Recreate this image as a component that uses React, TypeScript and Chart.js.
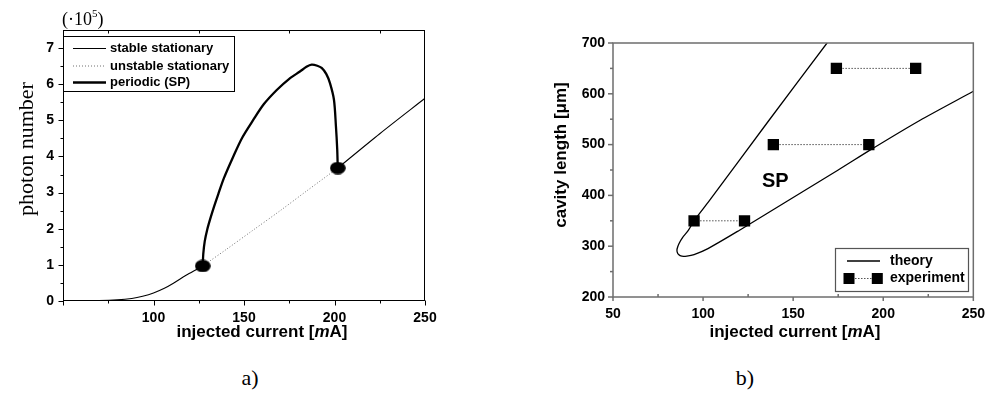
import React, { useEffect, useRef } from 'react';
import { Chart, registerables } from 'chart.js';

Chart.register(...registerables);

// ---------------- Panel a) photon number vs injected current ----------------
const stableLowCurrent = [50, 70, 80, 88, 94, 100, 106, 111, 118, 124, 127.2];
const stableLowPhotons = [0, 0.01, 0.03, 0.07, 0.13, 0.22, 0.35, 0.49, 0.71, 0.88, 0.97];
const unstableCurrent = [127.2, 140, 155, 170, 185, 201.8];
const unstablePhotons = [0.97, 1.42, 1.96, 2.5, 3.06, 3.68];
const stableHighCurrent = [201.8, 225, 250];
const stableHighPhotons = [3.68, 4.63, 5.61];
const periodicCurrent = [127.2, 127.5, 128.3, 129.7, 131.5, 133.5, 135.8, 138.9, 144.1, 149, 155.1, 161, 168.1, 175, 180.9, 184.5, 187.4, 190.5, 192.9, 195.5, 197.5, 199.7, 200.8, 201.5, 201.8];
const periodicPhotons = [0.97, 1.3, 1.65, 1.98, 2.3, 2.62, 2.96, 3.4, 4.0, 4.52, 5.01, 5.45, 5.84, 6.15, 6.35, 6.48, 6.54, 6.51, 6.45, 6.28, 6.03, 5.57, 4.83, 4.2, 3.68];
const hopfCurrent = [127.2, 201.8];
const hopfPhotons = [0.97, 3.68];
const xMajorA = [50, 100, 150, 200, 250];
const xMinorA = [75, 125, 175, 225];
const yMajorA = [0, 1, 2, 3, 4, 5, 6, 7];
const yMinorA = [0.5, 1.5, 2.5, 3.5, 4.5, 5.5, 6.5];
const legendA = ['stable stationary', 'unstable stationary', 'periodic (SP)'];

// ---------------- Panel b) cavity length vs injected current ----------------
const theoryCurrent = [172, 168.8, 136, 103.6, 95, 91.8, 88.6, 86.6, 85.6, 85.6, 86.4, 88.2, 91, 95, 102.7, 120, 150, 175, 194, 220, 250];
const theoryLength = [714, 700, 545, 390, 350, 331, 317, 305, 295, 289, 283.5, 280.3, 280.5, 283.5, 295.3, 331, 396, 450, 492, 547, 605];
const expOnset = [95, 139, 174];
const expOffset = [123, 192, 218];
const expLength = [350, 500, 650];
const xMajorB = [50, 100, 150, 200, 250];
const xMinorB = [75, 125, 175, 225];
const yMajorB = [200, 300, 400, 500, 600, 700];
const yMinorB = [250, 350, 450, 550, 650];
const legendB = ['theory', 'experiment'];

const SANS = '"Liberation Sans", Arial, Helvetica, sans-serif';
const SERIF = '"Liberation Serif", "Times New Roman", serif';

const pts = (xs: number[], ys: number[]) => xs.map((x, i) => ({ x, y: ys[i] }));

function ellipseMarker() {
  const c = document.createElement('canvas');
  c.width = 16;
  c.height = 13;
  const g = c.getContext('2d')!;
  g.fillStyle = '#000';
  g.beginPath();
  g.ellipse(8, 6.5, 7.8, 6.3, 0, 0, Math.PI * 2);
  g.fill();
  return c;
}

function drawMixed(ctx: CanvasRenderingContext2D, parts: [string, string][], cx: number, baseline: number) {
  let total = 0;
  const widths = parts.map(([t, f]) => {
    ctx.font = f;
    const w = ctx.measureText(t).width;
    total += w;
    return w;
  });
  let x = cx - total / 2;
  ctx.textAlign = 'left';
  ctx.textBaseline = 'alphabetic';
  parts.forEach(([t, f], i) => {
    ctx.font = f;
    ctx.fillText(t, x, baseline);
    x += widths[i];
  });
}

function seg(ctx: CanvasRenderingContext2D, x1: number, y1: number, x2: number, y2: number) {
  ctx.beginPath();
  ctx.moveTo(x1, y1);
  ctx.lineTo(x2, y2);
  ctx.stroke();
}

const decorA = {
  id: 'decorA',
  afterDraw(chart: any) {
    const { ctx, chartArea: a, scales } = chart;
    const xs = scales.x;
    const ys = scales.y;
    ctx.save();
    const L = Math.round(a.left) + 0.5;
    const R = Math.round(a.right) - 0.5;
    const T = Math.round(a.top) + 0.5;
    const B = Math.round(a.bottom) - 0.5;
    ctx.strokeStyle = '#000';
    ctx.lineWidth = 1;
    ctx.setLineDash([]);
    ctx.strokeRect(L, T, R - L, B - T);
    xMajorA.forEach((v) => {
      const p = Math.round(xs.getPixelForValue(v)) + 0.5;
      seg(ctx, p, B, p, B + 5);
    });
    xMinorA.forEach((v) => {
      const p = Math.round(xs.getPixelForValue(v)) + 0.5;
      seg(ctx, p, B, p, B + 3);
      seg(ctx, p, T, p, T + 3);
    });
    yMajorA.forEach((v) => {
      const p = Math.round(ys.getPixelForValue(v)) + 0.5;
      seg(ctx, L, p, L - 5, p);
    });
    yMinorA.forEach((v) => {
      const p = Math.round(ys.getPixelForValue(v)) + 0.5;
      seg(ctx, L, p, L - 3, p);
    });

    // legend
    ctx.fillStyle = '#fff';
    ctx.fillRect(64, 37, 170, 54);
    ctx.strokeStyle = '#000';
    ctx.lineWidth = 1;
    ctx.strokeRect(63.5, 36.5, 171, 55);
    const rows = [48.5, 66, 82.5];
    ctx.lineWidth = 1.1;
    seg(ctx, 73, rows[0], 106, rows[0]);
    ctx.strokeStyle = '#707070';
    ctx.lineWidth = 1;
    ctx.setLineDash([1, 2]);
    seg(ctx, 73, rows[1], 106, rows[1]);
    ctx.setLineDash([]);
    ctx.strokeStyle = '#000';
    ctx.lineWidth = 2.3;
    seg(ctx, 73, rows[2], 106, rows[2]);
    ctx.fillStyle = '#000';
    ctx.font = `bold 13px ${SANS}`;
    ctx.textAlign = 'left';
    ctx.textBaseline = 'middle';
    legendA.forEach((t, i) => ctx.fillText(t, 110, rows[i]));

    // scale factor label (·10^5)
    ctx.textBaseline = 'alphabetic';
    ctx.font = `18px ${SERIF}`;
    let x = 62;
    ctx.fillText('(·10', x, 25);
    x += ctx.measureText('(·10').width;
    ctx.font = `11px ${SERIF}`;
    ctx.fillText('5', x, 17);
    x += ctx.measureText('5').width;
    ctx.font = `18px ${SERIF}`;
    ctx.fillText(')', x, 25);

    // y title
    ctx.save();
    ctx.translate(27, 149);
    ctx.rotate(-Math.PI / 2);
    ctx.font = `22px ${SERIF}`;
    ctx.textAlign = 'center';
    ctx.textBaseline = 'middle';
    ctx.fillText('photon number', 0, 0);
    ctx.restore();

    // x title
    drawMixed(ctx, [
      ['injected current [', `bold 17px ${SANS}`],
      ['m', `italic bold 17px ${SANS}`],
      ['A]', `bold 17px ${SANS}`],
    ], 262, 337);
    ctx.restore();
  },
};

const decorB = {
  id: 'decorB',
  afterDraw(chart: any) {
    const { ctx, chartArea: a, scales } = chart;
    const xs = scales.x;
    const ys = scales.y;
    ctx.save();
    const L = a.left;
    const R = a.right;
    const T = a.top;
    const B = a.bottom;
    ctx.strokeStyle = '#6e6e6e';
    ctx.lineWidth = 1.5;
    ctx.setLineDash([]);
    ctx.strokeRect(L, T, R - L, B - T);
    xMajorB.forEach((v) => {
      const p = xs.getPixelForValue(v);
      seg(ctx, p, B, p, B + 4);
    });
    xMinorB.forEach((v) => {
      const p = xs.getPixelForValue(v);
      seg(ctx, p, B, p, B - 3);
    });
    yMajorB.forEach((v) => {
      const p = ys.getPixelForValue(v);
      seg(ctx, L, p, L - 5, p);
    });
    yMinorB.forEach((v) => {
      const p = ys.getPixelForValue(v);
      seg(ctx, L, p, L - 3, p);
    });

    // legend
    ctx.fillStyle = '#fff';
    ctx.fillRect(339, 249, 132, 42);
    ctx.strokeStyle = '#555';
    ctx.lineWidth = 1.2;
    ctx.strokeRect(338.5, 248.5, 133, 43);
    ctx.strokeStyle = '#000';
    ctx.lineWidth = 1.3;
    seg(ctx, 350, 261, 383, 261);
    ctx.strokeStyle = '#555';
    ctx.lineWidth = 1;
    ctx.setLineDash([1.5, 1.5]);
    seg(ctx, 352, 278.5, 380, 278.5);
    ctx.setLineDash([]);
    ctx.fillStyle = '#000';
    ctx.fillRect(346.5, 273, 11, 11);
    ctx.fillRect(374.8, 273, 11, 11);
    ctx.font = `bold 14px ${SANS}`;
    ctx.textAlign = 'left';
    ctx.textBaseline = 'middle';
    legendB.forEach((t, i) => ctx.fillText(t, 393, i === 0 ? 261 : 278.5));

    // region label
    ctx.font = `bold 20px ${SANS}`;
    ctx.textBaseline = 'alphabetic';
    ctx.fillText('SP', 265, 187);

    // y title
    ctx.save();
    ctx.translate(64, 155);
    ctx.rotate(-Math.PI / 2);
    ctx.font = `bold 17px ${SANS}`;
    ctx.textAlign = 'center';
    ctx.textBaseline = 'middle';
    ctx.fillText('cavity length [μm]', 0, 0);
    ctx.restore();

    drawMixed(ctx, [
      ['injected current [', `bold 17px ${SANS}`],
      ['m', `italic bold 17px ${SANS}`],
      ['A]', `bold 17px ${SANS}`],
    ], 298, 337);
    ctx.restore();
  },
};

const tickFont = { family: SANS, size: 14, weight: 'bold' as const };

export default function App() {
  const refA = useRef<HTMLCanvasElement>(null);
  const refB = useRef<HTMLCanvasElement>(null);

  useEffect(() => {
    document.body.style.margin = '0';
    document.body.style.overflow = 'hidden';
    const marker = ellipseMarker();

    const chartA = new Chart(refA.current!, {
      type: 'scatter',
      data: {
        datasets: [
          {
            label: 'Hopf points',
            data: pts(hopfCurrent, hopfPhotons),
            showLine: false,
            pointStyle: marker as any,
            pointRadius: 8,
            backgroundColor: '#000',
            borderColor: '#000',
          },
          {
            label: legendA[2],
            data: pts(periodicCurrent, periodicPhotons),
            showLine: true,
            borderColor: '#000',
            borderWidth: 2.3,
            pointRadius: 0,
            tension: 0.3,
          },
          {
            label: legendA[0],
            data: pts(stableLowCurrent, stableLowPhotons),
            showLine: true,
            borderColor: '#000',
            borderWidth: 1.1,
            pointRadius: 0,
            tension: 0.3,
          },
          {
            label: legendA[0] + ' (upper)',
            data: pts(stableHighCurrent, stableHighPhotons),
            showLine: true,
            borderColor: '#000',
            borderWidth: 1.1,
            pointRadius: 0,
            tension: 0.3,
          },
          {
            label: legendA[1],
            data: pts(unstableCurrent, unstablePhotons),
            showLine: true,
            borderColor: '#707070',
            borderWidth: 1,
            borderDash: [1, 2],
            pointRadius: 0,
            tension: 0.3,
          },
        ],
      },
      options: {
        responsive: false,
        animation: false,
        events: [],
        layout: { padding: { left: 0, top: 30, right: 72, bottom: 0 } },
        elements: { line: { capBezierPoints: false } },
        plugins: { legend: { display: false }, tooltip: { enabled: false } },
        scales: {
          x: {
            type: 'linear',
            min: 50,
            max: 250,
            afterBuildTicks: (s: any) => { s.ticks = xMajorA.map((v) => ({ value: v })); },
            afterFit: (s: any) => { s.height = 44; },
            grid: { display: false, drawTicks: false },
            border: { display: false },
            ticks: {
              callback: (v: any) => (v === 50 ? '' : String(v)),
              font: tickFont,
              color: '#000',
              padding: 8.5,
              maxRotation: 0,
              autoSkip: false,
            },
          },
          y: {
            type: 'linear',
            min: 0,
            max: 7.5,
            afterBuildTicks: (s: any) => { s.ticks = yMajorA.map((v) => ({ value: v })); },
            afterFit: (s: any) => { s.width = 63; },
            grid: { display: false, drawTicks: false },
            border: { display: false },
            ticks: { font: tickFont, color: '#000', padding: 9, autoSkip: false },
          },
        },
      },
      plugins: [decorA],
    });

    const expDatasets = expLength.map((len, i) => ({
      label: i === 0 ? legendB[1] : legendB[1] + ' ' + (i + 1),
      data: [
        { x: expOnset[i], y: len },
        { x: expOffset[i], y: len },
      ],
      showLine: true,
      borderColor: '#555',
      borderWidth: 1,
      borderDash: [1.5, 1.5],
      pointStyle: 'rect' as const,
      pointRadius: 8,
      pointBackgroundColor: '#000',
      pointBorderColor: '#000',
      pointBorderWidth: 0,
    }));

    const chartB = new Chart(refB.current!, {
      type: 'scatter',
      data: {
        datasets: [
          ...expDatasets,
          {
            label: legendB[0],
            data: pts(theoryCurrent, theoryLength),
            showLine: true,
            borderColor: '#000',
            borderWidth: 1.3,
            pointRadius: 0,
            tension: 0.3,
          },
        ],
      },
      options: {
        responsive: false,
        animation: false,
        events: [],
        layout: { padding: { left: 0, top: 43, right: 13, bottom: 0 } },
        elements: { line: { capBezierPoints: false } },
        plugins: { legend: { display: false }, tooltip: { enabled: false } },
        scales: {
          x: {
            type: 'linear',
            min: 50,
            max: 250,
            afterBuildTicks: (s: any) => { s.ticks = xMajorB.map((v) => ({ value: v })); },
            afterFit: (s: any) => { s.height = 48; },
            grid: { display: false, drawTicks: false },
            border: { display: false },
            ticks: { font: tickFont, color: '#000', padding: 9, maxRotation: 0, autoSkip: false },
          },
          y: {
            type: 'linear',
            min: 200,
            max: 700,
            afterBuildTicks: (s: any) => { s.ticks = yMajorB.map((v) => ({ value: v })); },
            afterFit: (s: any) => { s.width = 116; },
            grid: { display: false, drawTicks: false },
            border: { display: false },
            ticks: { font: tickFont, color: '#000', padding: 8, autoSkip: false },
          },
        },
      },
      plugins: [decorB],
    });

    return () => {
      chartA.destroy();
      chartB.destroy();
    };
  }, []);

  const capStyle: React.CSSProperties = {
    position: 'absolute',
    top: 378,
    transform: 'translate(-50%, -50%)',
    fontFamily: SERIF,
    fontSize: 22,
    color: '#000',
    lineHeight: 1,
  };

  return (
    <div style={{ position: 'fixed', left: 0, top: 0, width: 994, height: 405, background: '#fff' }}>
      <canvas ref={refA} width={497} height={345} style={{ position: 'absolute', left: 0, top: 0 }} />
      <canvas ref={refB} width={497} height={345} style={{ position: 'absolute', left: 497, top: 0 }} />
      <div style={{ ...capStyle, left: 250 }}>a)</div>
      <div style={{ ...capStyle, left: 745 }}>b)</div>
    </div>
  );
}
